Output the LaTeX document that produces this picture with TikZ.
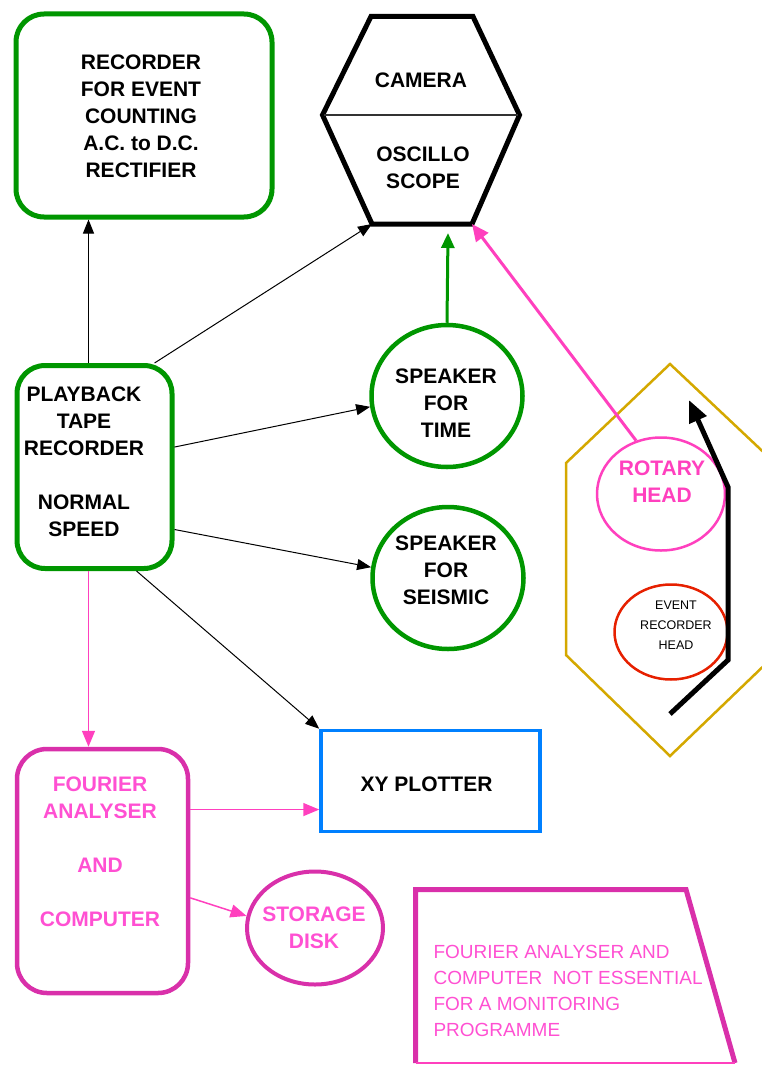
\documentclass[tikz,border=0pt]{standalone}
\usepackage{fontspec}
\setmainfont{Liberation Sans}
\usepackage{xcolor}
\usetikzlibrary{shapes.geometric,arrows.meta}
\definecolor{boxgreen}{RGB}{0,150,0}
\definecolor{framepink}{RGB}{217,48,170}
\definecolor{textpink}{RGB}{255,80,210}
\definecolor{linkpink}{RGB}{255,64,190}
\definecolor{plotblue}{RGB}{0,128,255}
\definecolor{hexgold}{RGB}{212,168,0}
\definecolor{headred}{RGB}{230,32,0}

\begin{document}
\begin{tikzpicture}[x=1pt,y=-1pt,
    bold/.style={font=\bfseries\fontsize{21}{27}\selectfont, align=center},
    greenbox/.style={draw=boxgreen, line width=5pt, rounded corners=28pt},
    speaker/.style={ellipse, draw=boxgreen, line width=4.5pt,
        minimum width=151pt, minimum height=142pt},
    pinkbox/.style={draw=framepink, line width=4.5pt},
    link/.style={line width=1pt, -{Triangle[length=14pt,width=11pt]}},
    pinklink/.style={line width=1.5pt, linkpink, -{Triangle[length=16pt,width=13pt]}}]
\useasboundingbox (0,0) rectangle (761,1065);

% Recorder for event counting
\node[greenbox, minimum width=256pt, minimum height=203pt] (recorder) at (144,115.5) {};
\node[bold] (recordertxt) at (141,116) {RECORDER\\FOR EVENT\\COUNTING\\A.C. to D.C.\\RECTIFIER};

% Camera / oscilloscope hexagon
\coordinate (scopeBL) at (372,224);
\coordinate (scopeBR) at (472,224);
\coordinate (scopegap) at (448,233);
\draw[line width=5pt, line join=miter] (371,16.5) -- (473,16.5) -- (519.5,115)
    -- (scopeBR) -- (scopeBL) -- (322.5,115) -- cycle;
\draw[line width=1.2pt, black!80] (324,115) -- (518,115);
\node[bold] (camera) at (421,80) {CAMERA};
\node[bold] (oscillo) at (423,168) {OSCILLO\\SCOPE};

% Playback tape recorder
\node[greenbox, minimum width=155pt, minimum height=203pt] (playback) at (94.5,467) {};
\node[bold] (playbacktxt) at (84,462) {PLAYBACK\\TAPE\\RECORDER\\[27pt]NORMAL\\SPEED};

% Speakers
\node[speaker] (spktime) at (447,396) {};
\node[bold] (spktimetxt) at (446,403.5) {SPEAKER\\FOR\\TIME};
\node[speaker] (spkseis) at (448,578) {};
\node[bold] (spkseistxt) at (446,570.5) {SPEAKER\\FOR\\SEISMIC};

% XY plotter
\node[draw=plotblue, line width=3.5pt, minimum width=219pt, minimum height=101pt]
    (xyplot) at (430.5,781) {};
\node[bold] (xyplottxt) at (426.5,784) {XY PLOTTER};

% Fourier analyser and storage
\node[pinkbox, rounded corners=30pt, minimum width=171pt, minimum height=244pt]
    (fourier) at (102.5,871) {};
\node[bold, textpink] (fouriertxt) at (100,851.5) {FOURIER\\ANALYSER\\[27pt]AND\\[27pt]COMPUTER};
\node[pinkbox, ellipse, line width=4pt, minimum width=136pt, minimum height=113pt]
    (storage) at (315,928) {};
\node[bold, textpink] (storagetxt) at (314,928) {STORAGE\\DISK};

% Note
\draw[framepink, line width=5pt, line join=miter] (735,1063) -- (686,889.5)
    -- (415.5,889.5) -- (415.5,1063);
\draw[linkpink, line width=1.5pt] (415.5,1063) -- (735,1063);
\node[textpink, anchor=west, align=left, font=\fontsize{19}{26}\selectfont]
    (note) at (430,991) {FOURIER ANALYSER AND\\COMPUTER\ \ NOT ESSENTIAL\\FOR A MONITORING\\PROGRAMME};

% Rotary head unit
\draw[hexgold, line width=2.5pt] (670,364) -- (775,463) -- (775,655) -- (670,756)
    -- (566,655) -- (566,463) -- cycle;
\node[ellipse, draw=linkpink, line width=2.5pt, minimum width=128pt, minimum height=113pt]
    (rotary) at (661,494) {};
\node[bold, linkpink] (rotarytxt) at (662,482) {ROTARY\\HEAD};
\node[ellipse, draw=headred, line width=2.5pt, minimum width=113pt, minimum height=95pt]
    (event) at (671,632) {};
\node[align=center, font=\fontsize{12.5}{20}\selectfont] (eventtxt) at (676,625)
    {EVENT\\RECORDER\\HEAD};
\draw[line width=5pt, -{Triangle[length=22pt,width=18pt]}] (670,714) -- (728,660)
    -- (728,487) -- (689,400);

% Connectors
\draw[link] ([xshift=-6pt]playback.north) -- ([xshift=-6pt]playback.north |- recorder.south);
\draw[link] (playback.60) -- (scopeBL);
\draw[link] (playback.14) -- (spktime.188);
\draw[link] (playback.-38) -- (spkseis.172);
\draw[link] (playback.-68) -- (xyplot.north west);
\draw[pinklink] ([xshift=-6pt]playback.south) -- ([xshift=-6pt]playback.south |- fourier.north);
\draw[boxgreen, line width=3pt, -{Triangle[length=15pt,width=13pt]}] (spktime.north) -- (scopegap);
\draw[linkpink, line width=3pt, -{Triangle[length=17pt,width=15pt]}] (rotary.115) -- (scopeBR);
\draw[pinklink] (fourier.35) -- (fourier.35 -| xyplot.west);
\draw[pinklink] (fourier.-17) -- (storage.170);
\end{tikzpicture}
\end{document}
